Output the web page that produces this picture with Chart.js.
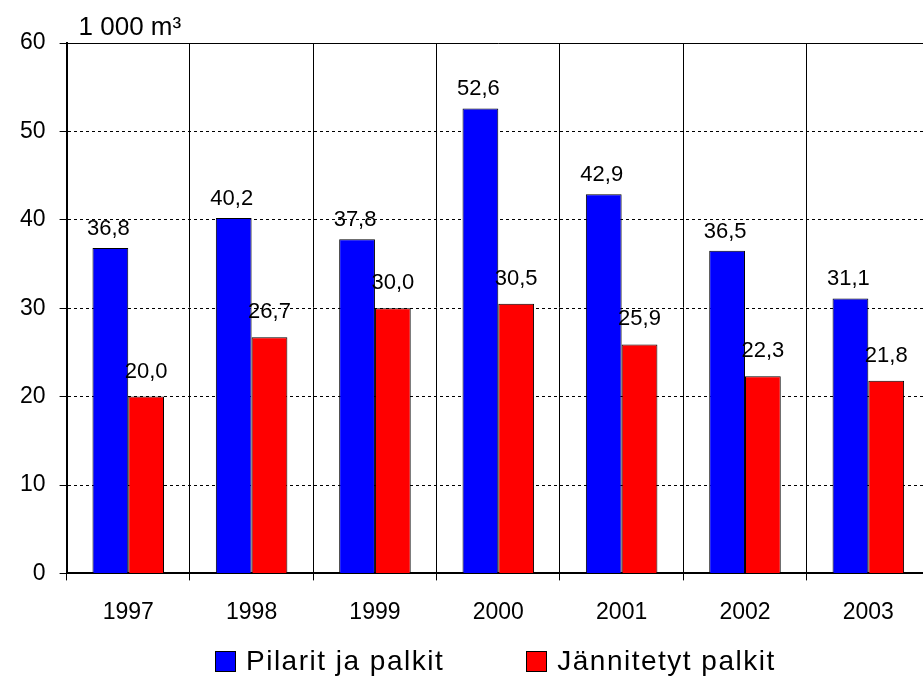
<!DOCTYPE html>
<html>
<head>
<meta charset="utf-8">
<script src="https://cdn.jsdelivr.net/npm/chart.js@4/dist/chart.umd.min.js"></script>
<style>
  html, body { margin: 0; padding: 0; background: #fff; overflow: hidden; }
  #wrap { position: absolute; left: 0; top: 0; width: 935px; height: 680px; }
  #legend {
    position: absolute; left: 215px; top: 646px; height: 30px;
    display: flex; align-items: center;
    font-family: 'Liberation Sans', Arial, sans-serif; font-size: 28px; color: #000;
    letter-spacing: 1.5px;
  }
  #legend .item { display: flex; align-items: center; white-space: nowrap; }
  #legend .item + .item { margin-left: 82px; }
  #legend .box { width: 19px; height: 19px; border: 1px solid #000; margin-right: 10px; }
</style>
</head>
<body>
<div id="wrap"><canvas id="chart"></canvas></div>
<div id="legend"></div>
<script>
// Data
const years = ['1997', '1998', '1999', '2000', '2001', '2002', '2003'];
const pilarit = [36.8, 40.2, 37.8, 52.6, 42.9, 36.5, 31.1];
const jannitetyt = [20.0, 26.7, 30.0, 30.5, 25.9, 22.3, 21.8];
const seriesNames = ['Pilarit ja palkit', 'Jännitetyt palkit'];
const seriesColors = ['#0000ff', '#ff0000'];
const unitTitle = '1 000 m³';

const FONT = "'Liberation Sans', Arial, sans-serif";

Chart.defaults.font.family = FONT;
Chart.defaults.color = '#000';
Chart.defaults.animation = false;

// value labels above bars, Finnish decimal comma
// (red labels sit a bit higher than the blue ones in the original)
const labelGap = [13, 19];
const labelShift = [-2, 0];
const valueLabels = {
  id: 'valueLabels',
  afterDatasetsDraw(chart) {
    const ctx = chart.ctx;
    ctx.save();
    ctx.font = '22px ' + FONT;
    ctx.fillStyle = '#000';
    ctx.textAlign = 'center';
    ctx.textBaseline = 'alphabetic';
    chart.data.datasets.forEach((ds, i) => {
      chart.getDatasetMeta(i).data.forEach((bar, j) => {
        const txt = ds.data[j].toFixed(1).replace('.', ',');
        ctx.fillText(txt, bar.x + labelShift[i], bar.y - labelGap[i]);
      });
    });
    ctx.restore();
  }
};

// unit text + solid top border of the plot
const frame = {
  id: 'frame',
  afterDraw(chart) {
    const { ctx, chartArea } = chart;
    ctx.save();
    ctx.strokeStyle = '#000';
    ctx.lineWidth = 1;
    ctx.beginPath();
    ctx.moveTo(chartArea.left, chartArea.top + 0.5);
    ctx.lineTo(chartArea.right, chartArea.top + 0.5);
    ctx.stroke();
    ctx.font = '26px ' + FONT;
    ctx.fillStyle = '#000';
    ctx.textAlign = 'left';
    ctx.textBaseline = 'alphabetic';
    ctx.fillText(unitTitle, chartArea.left + 12, chartArea.top - 8);
    ctx.restore();
  }
};

// html legend built from the datasets
const htmlLegend = {
  id: 'htmlLegend',
  afterUpdate(chart) {
    const el = document.getElementById('legend');
    el.innerHTML = '';
    chart.data.datasets.forEach(ds => {
      const item = document.createElement('div');
      item.className = 'item';
      const box = document.createElement('span');
      box.className = 'box';
      box.style.background = ds.backgroundColor;
      const txt = document.createElement('span');
      txt.textContent = ds.label;
      item.appendChild(box);
      item.appendChild(txt);
      el.appendChild(item);
    });
  }
};

new Chart(document.getElementById('chart'), {
  type: 'bar',
  data: {
    labels: years,
    datasets: [
      {
        label: seriesNames[0],
        data: pilarit,
        backgroundColor: seriesColors[0],
        borderColor: '#000',
        borderWidth: 1,
        borderSkipped: 'bottom'
      },
      {
        label: seriesNames[1],
        data: jannitetyt,
        backgroundColor: seriesColors[1],
        borderColor: '#000',
        borderWidth: 1,
        borderSkipped: 'bottom'
      }
    ]
  },
  options: {
    responsive: true,
    maintainAspectRatio: false,
    datasets: {
      bar: { categoryPercentage: 0.58, barPercentage: 1 }
    },
    layout: { padding: { left: 6, right: 5, top: 43, bottom: 36 } },
    plugins: {
      tooltip: { enabled: false },
      legend: { display: false }
    },
    scales: {
      x: {
        grid: {
          display: true,
          offset: true,
          color: '#000',
          lineWidth: 1,
          drawTicks: true,
          tickLength: 7
        },
        border: { display: true, color: '#000', width: 2 },
        ticks: { font: { size: 23 }, color: '#000', padding: 18 }
      },
      y: {
        min: 0,
        max: 60,
        ticks: { stepSize: 10, font: { size: 23 }, color: '#000', padding: 14 },
        grid: {
          color: '#000',
          lineWidth: 1,
          drawTicks: true,
          tickLength: 7
        },
        border: { display: true, color: '#000', width: 2, dash: [3, 3] }
      }
    }
  },
  plugins: [valueLabels, frame, htmlLegend]
});
</script>
</body>
</html>
